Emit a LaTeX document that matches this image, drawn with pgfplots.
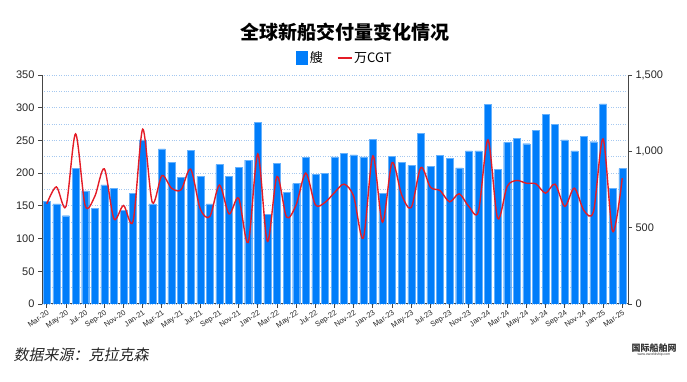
\documentclass[border=0pt]{standalone}
\usepackage{pgfplots}
\pgfplotsset{compat=1.18}
\usepackage{pgfplotstable}
\usepackage{fontspec}
\setmainfont{Liberation Sans}
\newfontfamily\cjk{Noto Sans CJK SC}
\newfontfamily\cjkit[FakeSlant=0.2]{Noto Sans CJK SC}
\definecolor{barblue}{RGB}{0,125,250}
\definecolor{linered}{RGB}{228,28,38}
\definecolor{gridblue}{RGB}{165,200,240}
\definecolor{axisgray}{RGB}{70,70,70}
\pgfplotstableread{
i n c
0 157 656
1 153 767
2 135 639
3 207 1114
4 173 645
5 146 704
6 182 885
7 177 558
8 143 645
9 169 543
10 251 1145
11 153 665
12 237 841
13 217 759
14 194 748
15 235 883
16 195 623
17 153 573
18 213 779
19 195 590
20 209 693
21 220 403
22 278 983
23 137 410
24 215 835
25 171 569
26 184 650
27 224 857
28 198 650
29 200 665
30 225 730
31 230 785
32 228 704
33 225 432
34 252 970
35 169 536
36 226 926
37 217 715
38 212 632
39 261 894
40 210 765
41 227 743
42 223 669
43 208 722
44 234 639
45 234 606
46 305 1075
47 206 562
48 247 770
49 253 809
50 245 791
51 265 787
52 290 726
53 275 785
54 251 639
55 234 759
56 256 613
57 248 606
58 306 1081
59 177 475
60 207 824
}\data
\begin{document}
\begin{tikzpicture}
\path[use as bounding box] (0,0) rectangle (687pt,382pt);
\begin{axis}[
  at={(42pt,78pt)}, anchor=south west,
  scale only axis, width=586pt, height=229pt,
  xmin=-0.5, xmax=60.6, ymin=0, ymax=350,
  axis y line*=left, axis x line*=bottom,
  axis line style={axisgray, line width=1pt, -},
  tick align=outside,
  ytick={0,50,...,350}, minor ytick={25,75,...,325},
  minor tick length=0pt, major tick length=4pt,
  tick style={axisgray, line width=0.8pt},
  ymajorgrids, yminorgrids,
  major grid style={gridblue, dotted, line width=0.9pt},
  minor grid style={gridblue, dotted, line width=0.9pt},
  xtick={0,2,...,60},
  xticklabels={Mar-20,May-20,Jul-20,Sep-20,Nov-20,Jan-21,Mar-21,May-21,Jul-21,Sep-21,Nov-21,Jan-22,Mar-22,May-22,Jul-22,Sep-22,Nov-22,Jan-23,Mar-23,May-23,Jul-23,Sep-23,Nov-23,Jan-24,Mar-24,May-24,Jul-24,Sep-24,Nov-24,Jan-25,Mar-25},
  xticklabel style={rotate=35, anchor=north east, font=\fontsize{7.5}{8}\selectfont, inner sep=1pt, text=black!85},
  yticklabel style={font=\fontsize{11}{12}\selectfont, text=black!85},
  /pgf/number format/assume math mode=true,
]
\addplot[ybar, bar width=7pt, fill=barblue, draw=barblue!60!white, line width=0.3pt] table[x=i, y=n] {\data};
\end{axis}
\begin{axis}[
  at={(42pt,78pt)}, anchor=south west,
  scale only axis, width=586pt, height=229pt,
  xmin=-0.5, xmax=60.6, ymin=0, ymax=1500,
  axis y line*=right, axis x line=none,
  axis line style={axisgray, line width=1pt, -},
  tick align=outside, major tick length=4pt,
  tick style={axisgray, line width=0.8pt},
  ytick={0,500,1000,1500},
  yticklabel style={font=\fontsize{11}{12}\selectfont, text=black!85},
  /pgf/number format/assume math mode=true,
  /pgf/number format/1000 sep={,},
  legend columns=2,
  legend style={at={(0.517,1.074)}, anchor=center, draw=none, fill=none,
    font=\cjk\fontsize{13}{14}\selectfont,
    /tikz/every even column/.append style={column sep=12pt}},
  legend image code/.code={\draw[#1] (0pt,0pt) -- (14pt,0pt);},
]
\addlegendimage{legend image code/.code={\fill[barblue] (0pt,-6pt) rectangle (11pt,7pt);}}
\addlegendentry{艘}
\addplot[smooth, linered, line width=1.4pt] table[x=i, y=c] {\data};
\addlegendentry{万CGT}
\end{axis}
\node[font=\cjk\bfseries\fontsize{19}{22}\selectfont] at (345pt,350pt) {全球新船交付量变化情况};
\node[anchor=west, font=\cjkit\fontsize{15}{17}\selectfont, text=black!85] at (10pt,27pt) {数据来源：克拉克森};
\node[font=\cjk\bfseries\fontsize{9}{10}\selectfont, text=black!80] at (654pt,34pt) {国际船舶网};
\node[font=\fontsize{3.5}{4}\selectfont, text=black!80] at (654pt,27pt) {www.eworldship.com};
\end{tikzpicture}
\end{document}
